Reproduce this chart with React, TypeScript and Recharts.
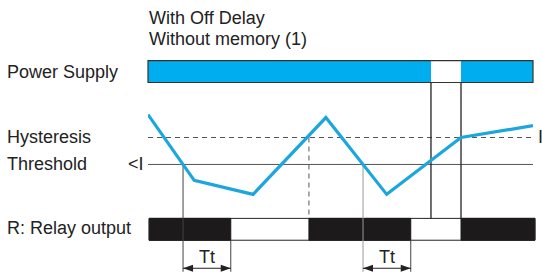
import React from "react";
import { ComposedChart, Line, XAxis, YAxis, ReferenceArea, ReferenceLine } from "recharts";

// time axis 0..100, signal level: threshold = 0, hysteresis = 1
const signal = [
  { t: 0, level: 1.85 },
  { t: 12, level: -0.59 },
  { t: 27.3, level: -1.11 },
  { t: 46.2, level: 1.74 },
  { t: 62, level: -1.11 },
  { t: 81.3, level: 1.0 },
  { t: 100, level: 1.44 },
];

const THRESHOLD = 0;
const HYSTERESIS = 1;
const thresholdCrossings = [9.1, 55.85];
const hysteresisCrossing = 41.8;
const TT = 12.4;
const powerOff: [number, number] = [73.5, 81.3];

// relay is energised until Tt after the level drops under the threshold
const relayOn: Array<[number, number]> = [
  [0.3, thresholdCrossings[0] + TT],
  [hysteresisCrossing, thresholdCrossings[1] + TT],
  [powerOff[1], 100.5],
];

// rows of the timing diagram, in level units
const POWER_ROW: [number, number] = [3.04, 3.85];
const RELAY_ROW: [number, number] = [-2.81, -2.0];
const TT_ROW = -3.85;
const TT_BOTTOM = -3.98;

const leftLabels = [
  { text: "Power Supply", y: 78 },
  { text: "Hysteresis", y: 143 },
  { text: "Threshold", y: 170 },
  { text: "R: Relay output", y: 234 },
];

const font = "'Liberation Sans', Arial, sans-serif";

const TtArrow = (props: any) => {
  const { x1, y1, x2 } = props;
  const h = 5;
  return (
    <g>
      <line x1={x1} y1={y1} x2={x2} y2={y1} stroke="#222" strokeWidth={1.2} />
      <polygon points={`${x1},${y1} ${x1 + 10},${y1 - h / 1.4} ${x1 + 10},${y1 + h / 1.4}`} fill="#222" />
      <polygon points={`${x2},${y1} ${x2 - 10},${y1 - h / 1.4} ${x2 - 10},${y1 + h / 1.4}`} fill="#222" />
      <text x={(x1 + x2) / 2} y={y1 - 5} textAnchor="middle" fontSize={18} fontFamily={font} fill="#222">
        Tt
      </text>
    </g>
  );
};

export default function App() {
  return (
    <div style={{ position: "absolute", left: 0, top: 0, width: 542, height: 275, background: "#fff" }}>
      <ComposedChart
        width={542}
        height={275}
        data={signal}
        margin={{ top: 0, right: 9, bottom: 0, left: 148 }}
      >
        <XAxis type="number" dataKey="t" domain={[0, 100]} hide allowDataOverflow />
        <YAxis type="number" domain={[-4.1, 6.1]} hide allowDataOverflow />

        {/* power supply bar */}
        <ReferenceArea x1={0} x2={100} y1={POWER_ROW[0]} y2={POWER_ROW[1]} fill="#00aeef" fillOpacity={1} stroke="none" ifOverflow="visible" />
        <ReferenceArea x1={powerOff[0]} x2={powerOff[1]} y1={POWER_ROW[0]} y2={POWER_ROW[1]} fill="#fff" fillOpacity={1} stroke="none" ifOverflow="visible" />
        <ReferenceArea x1={0} x2={100} y1={POWER_ROW[0]} y2={POWER_ROW[1]} fill="none" stroke="#333" strokeWidth={1.2} ifOverflow="visible" />

        {/* relay output bar */}
        <ReferenceArea x1={0.3} x2={100.5} y1={RELAY_ROW[0]} y2={RELAY_ROW[1]} fill="#fff" fillOpacity={1} stroke="#222" strokeWidth={1} ifOverflow="visible" />
        {relayOn.map(([a, b], i) => (
          <ReferenceArea key={`on-${i}`} x1={a} x2={b} y1={RELAY_ROW[0]} y2={RELAY_ROW[1]} fill="#1c1a1a" fillOpacity={1} stroke="#1c1a1a" ifOverflow="visible" />
        ))}

        <ReferenceLine y={HYSTERESIS} stroke="#555" strokeDasharray="5 4" strokeWidth={1} />
        <ReferenceLine y={THRESHOLD} stroke="#555" strokeWidth={1} />

        <ReferenceLine segment={[{ x: thresholdCrossings[0], y: THRESHOLD }, { x: thresholdCrossings[0], y: TT_BOTTOM }]} stroke="#444" strokeWidth={1} />
        <ReferenceLine segment={[{ x: thresholdCrossings[1], y: THRESHOLD }, { x: thresholdCrossings[1], y: TT_BOTTOM }]} stroke="#999" strokeWidth={1} />
        <ReferenceLine segment={[{ x: hysteresisCrossing, y: HYSTERESIS }, { x: hysteresisCrossing, y: RELAY_ROW[1] }]} stroke="#555" strokeDasharray="5 4" strokeWidth={1} />
        {thresholdCrossings.map((c, i) => (
          <ReferenceLine key={`tt-end-${i}`} segment={[{ x: c + TT, y: RELAY_ROW[0] }, { x: c + TT, y: TT_BOTTOM }]} stroke="#444" strokeWidth={1} />
        ))}
        {powerOff.map((p, i) => (
          <ReferenceLine key={`pw-${i}`} segment={[{ x: p, y: POWER_ROW[0] }, { x: p, y: RELAY_ROW[1] }]} stroke="#222" strokeWidth={1.3} />
        ))}
        {thresholdCrossings.map((c, i) => (
          <ReferenceLine key={`tt-${i}`} segment={[{ x: c, y: TT_ROW }, { x: c + TT, y: TT_ROW }]} shape={TtArrow} />
        ))}

        <Line type="linear" dataKey="level" stroke="#1ba7de" strokeWidth={3.2} dot={false} activeDot={false} isAnimationActive={false} />
      </ComposedChart>

      <svg width={542} height={275} style={{ position: "absolute", left: 0, top: 0, pointerEvents: "none" }}>
        <g fontFamily={font} fontSize={18} fill="#222">
          <text x={149} y={24}>With Off Delay</text>
          <text x={149} y={45}>Without memory (1)</text>
          {leftLabels.map((l) => (
            <text key={l.text} x={7} y={l.y}>
              {l.text}
            </text>
          ))}
          <text x={128} y={170}>{"<I"}</text>
          <text x={538} y={143}>I</text>
        </g>
      </svg>
    </div>
  );
}
